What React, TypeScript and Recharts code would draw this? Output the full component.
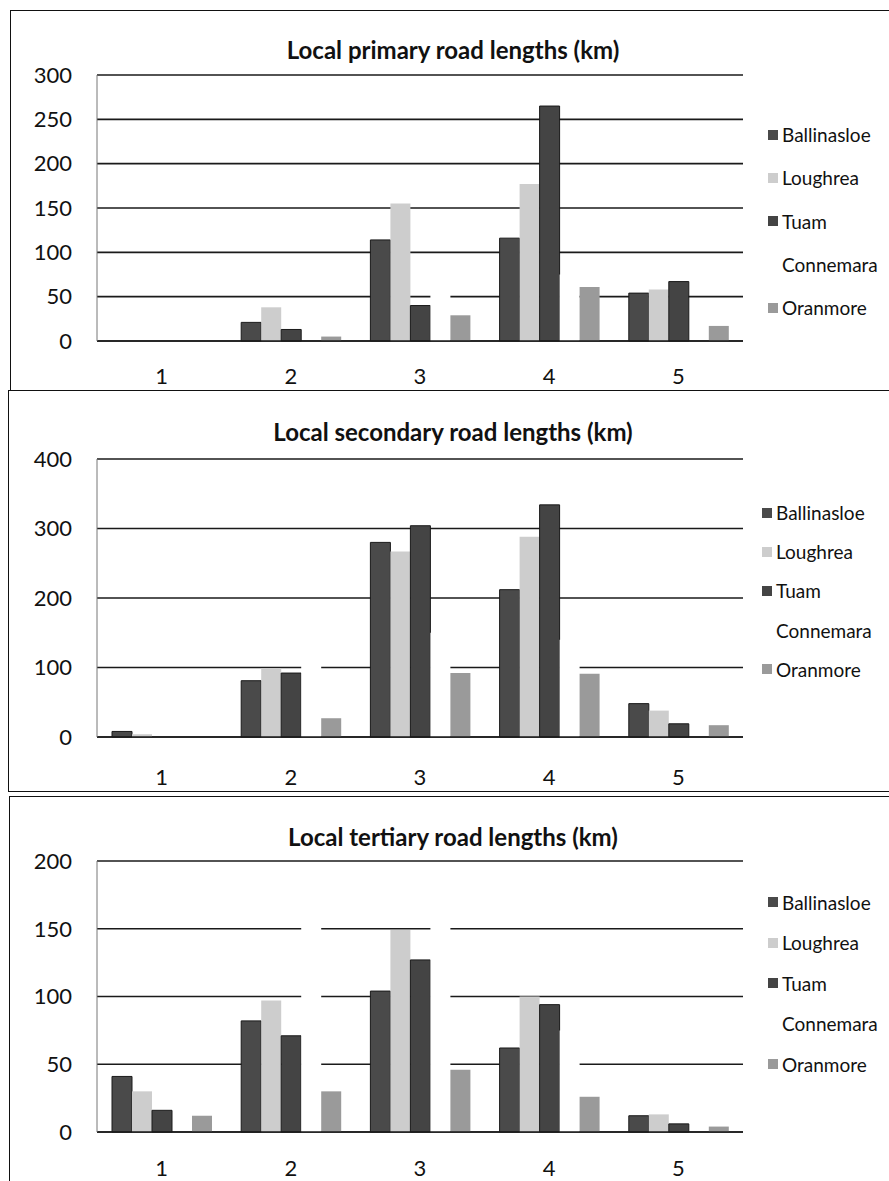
import React from "react";
import { BarChart, Bar, XAxis, YAxis, CartesianGrid, Legend } from "recharts";

// district categories along the x axis
const categories = ["1", "2", "3", "4", "5"];
const seriesNames = ["Ballinasloe", "Loughrea", "Tuam", "Connemara", "Oranmore"];

// Local primary road lengths (km)
const primaryBallinasloe = [0, 21, 114, 116, 54];
const primaryLoughrea = [0, 38, 155, 177, 58];
const primaryTuam = [0, 13, 40, 265, 67];
const primaryConnemara = [0, 0, 75, 75, 0];
const primaryOranmore = [0, 5, 29, 61, 17];
const primaryTicks = [0, 50, 100, 150, 200, 250, 300];

// Local secondary road lengths (km)
const secondaryBallinasloe = [8, 81, 280, 212, 48];
const secondaryLoughrea = [4, 99, 267, 288, 38];
const secondaryTuam = [0, 92, 304, 334, 19];
const secondaryConnemara = [0, 130, 150, 140, 0];
const secondaryOranmore = [0, 27, 92, 91, 17];
const secondaryTicks = [0, 100, 200, 300, 400];

// Local tertiary road lengths (km)
const tertiaryBallinasloe = [41, 82, 104, 62, 12];
const tertiaryLoughrea = [30, 97, 149, 100, 13];
const tertiaryTuam = [16, 71, 127, 94, 6];
const tertiaryConnemara = [0, 170, 165, 75, 0];
const tertiaryOranmore = [12, 30, 46, 26, 4];
const tertiaryTicks = [0, 50, 100, 150, 200];

const colors = ["#4a4a4a", "#cdcdcd", "#444444", "#ffffff", "#9a9a9a"];
const strokes = ["#1a1a1a", "none", "#1a1a1a", "none", "none"];

const buildRows = (cols: number[][]) =>
  categories.map((c, i) => {
    const row: Record<string, any> = { name: c };
    seriesNames.forEach((s, j) => {
      row[s] = cols[j][i];
    });
    return row;
  });

const LegendList = ({ payload, gap }: any) => (
  <div style={{ fontSize: 19, color: "#111" }}>
    {(payload || []).map((p: any) => (
      <div key={p.value} style={{ height: gap, display: "flex", alignItems: "center" }}>
        <span style={{ width: 10, height: 10, background: p.color, marginRight: 4, display: "inline-block" }} />
        <span>{p.value}</span>
      </div>
    ))}
  </div>
);

interface PanelProps {
  title: string;
  rows: any[];
  ticks: number[];
  top: number;
  height: number;
  plotTop: number;
  plotBottomGap: number;
  labelGap: number;
  titleY: number;
  legendLeft: number;
  legendTop: number;
  legendGap: number;
}

const Panel = ({ title, rows, ticks, top, height, plotTop, plotBottomGap, labelGap, titleY, legendLeft, legendTop, legendGap }: PanelProps) => (
  <div style={{ position: "absolute", left: 0, top, width: 889, height: height + 20 }}>
    <BarChart
      width={889}
      height={height + 20}
      data={rows}
      margin={{ top: plotTop, right: 146, bottom: plotBottomGap + 20 - 40, left: 0 }}
      barCategoryGap={15}
      barGap={0}
    >
      <CartesianGrid vertical={false} stroke="#1a1a1a" strokeWidth={1.6} />
      <XAxis
        dataKey="name"
        height={40}
        tickLine={false}
        tickSize={0}
        tickMargin={labelGap}
        axisLine={{ stroke: "#1a1a1a", strokeWidth: 1.6 }}
        tick={{ fontSize: 22, fill: "#111" }}
      />
      <YAxis
        width={97}
        domain={[0, ticks[ticks.length - 1]]}
        ticks={ticks}
        interval={0}
        tickLine={false}
        tickSize={0}
        tickMargin={25}
        axisLine={{ stroke: "#777", strokeWidth: 1 }}
        tick={{ fontSize: 22, fill: "#111" }}
      />
      <Legend
        layout="vertical"
        align="center"
        verticalAlign="middle"
        itemSorter={(item: any) => seriesNames.indexOf(item.value)}
        wrapperStyle={{ left: legendLeft, top: legendTop, width: 130 }}
        content={(props: any) => <LegendList {...props} gap={legendGap} />}
      />
      {seriesNames.map((s, j) => (
        <Bar
          key={s}
          dataKey={s}
          fill={colors[j]}
          stroke={strokes[j]}
          strokeWidth={1}
          isAnimationActive={false}
        />
      ))}
    </BarChart>
    <div
      style={{
        position: "absolute",
        left: 203,
        width: 500,
        top: titleY - 16,
        textAlign: "center",
        fontSize: 24,
        fontWeight: 700,
        color: "#111",
        lineHeight: "32px",
      }}
    >
      {title}
    </div>
  </div>
);

const App = () => {
  const primaryRows = buildRows([primaryBallinasloe, primaryLoughrea, primaryTuam, primaryConnemara, primaryOranmore]);
  const secondaryRows = buildRows([secondaryBallinasloe, secondaryLoughrea, secondaryTuam, secondaryConnemara, secondaryOranmore]);
  const tertiaryRows = buildRows([tertiaryBallinasloe, tertiaryLoughrea, tertiaryTuam, tertiaryConnemara, tertiaryOranmore]);

  return (
    <div
      style={{
        position: "absolute",
        left: 0,
        top: 0,
        width: 889,
        height: 1181,
        overflow: "hidden",
        background: "#fff",
        fontFamily: "Lato, 'Open Sans', sans-serif",
      }}
    >
      {/* frames around each chart */}
      <div style={{ position: "absolute", left: 10, top: 10, width: 900, height: 381, border: "1.5px solid #111", boxSizing: "border-box" }} />
      <div style={{ position: "absolute", left: 8, top: 390, width: 900, height: 402, border: "1.5px solid #111", boxSizing: "border-box" }} />
      <div style={{ position: "absolute", left: 9, top: 796, width: 900, height: 420, border: "1.5px solid #111", boxSizing: "border-box" }} />

      <Panel
        title="Local primary road lengths (km)"
        rows={primaryRows}
        ticks={primaryTicks}
        top={10}
        height={380}
        plotTop={65}
        plotBottomGap={49}
        labelGap={27}
        titleY={40}
        legendLeft={768}
        legendTop={103}
        legendGap={43.3}
      />
      <Panel
        title="Local secondary road lengths (km)"
        rows={secondaryRows}
        ticks={secondaryTicks}
        top={390}
        height={402}
        plotTop={69}
        plotBottomGap={55}
        labelGap={32}
        titleY={42}
        legendLeft={762}
        legendTop={103}
        legendGap={39.2}
      />
      <Panel
        title="Local tertiary road lengths (km)"
        rows={tertiaryRows}
        ticks={tertiaryTicks}
        top={796}
        height={385}
        plotTop={65}
        plotBottomGap={49}
        labelGap={28}
        titleY={41}
        legendLeft={768}
        legendTop={86}
        legendGap={40.5}
      />
    </div>
  );
};

export default App;
